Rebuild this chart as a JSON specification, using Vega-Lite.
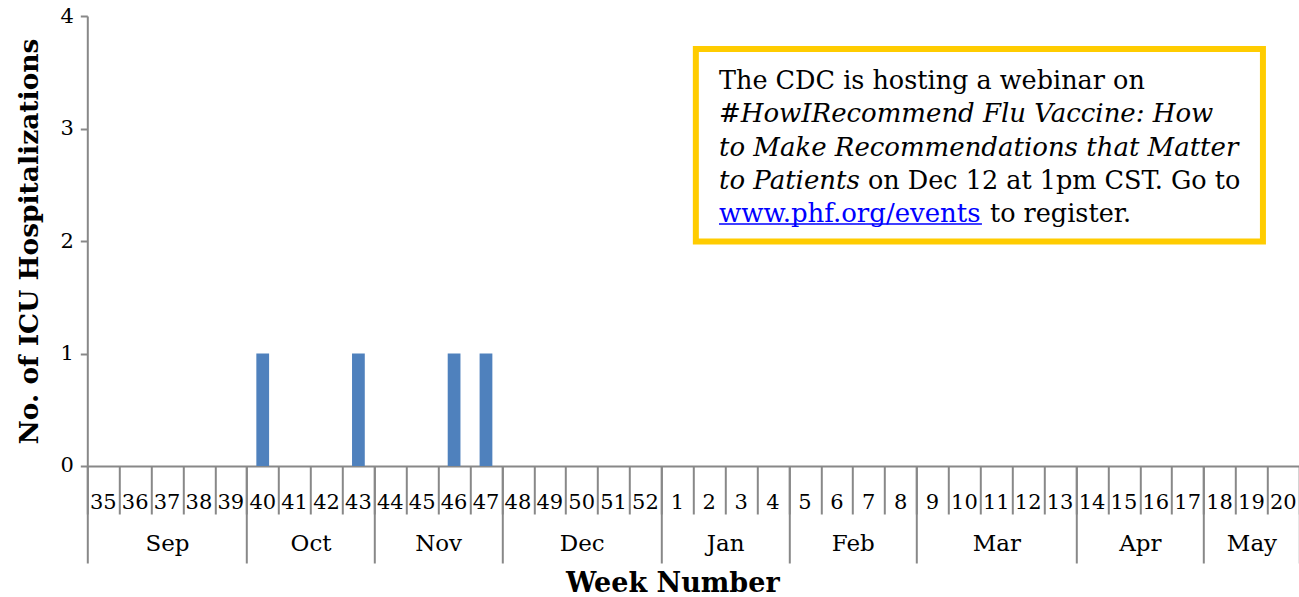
{
  "$schema": "https://vega.github.io/schema/vega-lite/v6.json",
  "width": 1212,
  "height": 450,
  "autosize": {"type": "none"},
  "padding": {"left": 87.3, "top": 16, "right": 0, "bottom": 131},
  "background": "white",
  "config": {
    "font": "DejaVu Serif",
    "view": {"stroke": null},
    "axisY": {
      "format": "d", "grid": false,
      "tickSize": 7, "tickColor": "#888888", "tickWidth": 2,
      "domainColor": "#888888", "domainWidth": 2,
      "labelFontSize": 21, "labelColor": "black", "labelPadding": 7, "labelFont": "DejaVu Serif",
      "titleFontSize": 26.5, "titleFontWeight": "bold", "titleColor": "black", "titleFont": "DejaVu Serif",
      "titleX": -50, "titleY": 225, "titleAngle": -90, "titleBaseline": "alphabetic", "titleAlign": "center"
    }
  },
  "datasets": {
    "weeks": [
      {"week": "35", "count": 0}, {"week": "36", "count": 0}, {"week": "37", "count": 0},
      {"week": "38", "count": 0}, {"week": "39", "count": 0}, {"week": "40", "count": 1},
      {"week": "41", "count": 0}, {"week": "42", "count": 0}, {"week": "43", "count": 1},
      {"week": "44", "count": 0}, {"week": "45", "count": 0}, {"week": "46", "count": 1},
      {"week": "47", "count": 1}, {"week": "48", "count": 0}, {"week": "49", "count": 0},
      {"week": "50", "count": 0}, {"week": "51", "count": 0}, {"week": "52", "count": 0},
      {"week": "1", "count": 0}, {"week": "2", "count": 0}, {"week": "3", "count": 0},
      {"week": "4", "count": 0}, {"week": "5", "count": 0}, {"week": "6", "count": 0},
      {"week": "7", "count": 0}, {"week": "8", "count": 0}, {"week": "9", "count": 0},
      {"week": "10", "count": 0}, {"week": "11", "count": 0}, {"week": "12", "count": 0},
      {"week": "13", "count": 0}, {"week": "14", "count": 0}, {"week": "15", "count": 0},
      {"week": "16", "count": 0}, {"week": "17", "count": 0}, {"week": "18", "count": 0},
      {"week": "19", "count": 0}, {"week": "20", "count": 0}
    ],
    "months": [
      {"month": "Sep", "start": 0, "end": 5, "mid": 2.5},
      {"month": "Oct", "start": 5, "end": 9, "mid": 7},
      {"month": "Nov", "start": 9, "end": 13, "mid": 11},
      {"month": "Dec", "start": 13, "end": 18, "mid": 15.5},
      {"month": "Jan", "start": 18, "end": 22, "mid": 20},
      {"month": "Feb", "start": 22, "end": 26, "mid": 24},
      {"month": "Mar", "start": 26, "end": 31, "mid": 28.5},
      {"month": "Apr", "start": 31, "end": 35, "mid": 33},
      {"month": "May", "start": 35, "end": 38, "mid": 36.5}
    ],
    "box": [{"x": 19.08, "x2": 36.86, "y": 3.707, "y2": 1.996}],
    "plainText": [
      {"text": "The CDC is hosting a webinar on", "x": 19.806, "y": 3.351},
      {"text": "on Dec 12 at 1pm CST. Go to", "x": 24.477, "y": 2.463},
      {"text": "to register.", "x": 28.30, "y": 2.167}
    ],
    "italicText": [
      {"text": "#HowIRecommend Flu Vaccine: How", "x": 19.806, "y": 3.055},
      {"text": "to Make Recommendations that Matter", "x": 19.806, "y": 2.759},
      {"text": "to Patients", "x": 19.806, "y": 2.463}
    ],
    "linkText": [
      {"text": "www.phf.org/events", "x": 19.806, "x2": 28.05, "y": 2.167, "yu": 2.151}
    ]
  },
  "layer": [
    {
      "data": {"name": "weeks"},
      "mark": {"type": "bar", "color": "#4F81BD"},
      "encoding": {
        "x": {
          "field": "week", "type": "ordinal",
          "sort": ["35","36","37","38","39","40","41","42","43","44","45","46","47","48","49","50","51","52","1","2","3","4","5","6","7","8","9","10","11","12","13","14","15","16","17","18","19","20"],
          "scale": {"paddingInner": 0.6, "paddingOuter": 0.3},
          "axis": {
            "orient": "bottom", "title": null, "labelAngle": 0,
            "ticks": false,
            "domainColor": "#888888", "domainWidth": 2,
            "labelFontSize": 21, "labelColor": "black", "labelFont": "DejaVu Serif",
            "labelBaseline": "alphabetic", "labelPadding": 43, "labelOverlap": false, "labelBound": false
          }
        },
        "y": {
          "field": "count", "type": "quantitative",
          "scale": {"domain": [0, 4], "nice": false},
          "title": "No. of ICU Hospitalizations",
          "axis": {"values": [0, 1, 2, 3, 4], "format": "d", "title": "No. of ICU Hospitalizations"}
        }
      }
    },
    {
      "data": {"name": "months"},
      "mark": {"type": "rule", "opacity": 0},
      "encoding": {
        "x": {
          "field": "end", "type": "quantitative",
          "scale": {"domain": [0, 38], "nice": false, "zero": false},
          "axis": {
            "orient": "bottom", "title": null,
            "values": [0,1,2,3,4,5,6,7,8,9,10,11,12,13,14,15,16,17,18,19,20,21,22,23,24,25,26,27,28,29,30,31,32,33,34,35,36,37,38],
            "labels": false, "domain": false, "grid": false,
            "tickSize": 48, "tickColor": "#888888", "tickWidth": 2
          }
        }
      }
    },
    {
      "data": {"name": "months"},
      "mark": {"type": "rule", "opacity": 0},
      "encoding": {
        "x": {
          "field": "start", "type": "quantitative",
          "scale": {"domain": [0, 38], "nice": false, "zero": false},
          "axis": {
            "orient": "bottom", "title": null, "values": [0, 5, 9, 13, 18, 22, 26, 31, 35, 38],
            "labels": false, "domain": false, "grid": false,
            "tickSize": 97, "tickColor": "#888888", "tickWidth": 2
          }
        }
      }
    },
    {
      "data": {"name": "months"},
      "mark": {"type": "rule", "opacity": 0},
      "encoding": {
        "x": {
          "field": "mid", "type": "quantitative",
          "scale": {"domain": [0, 38], "nice": false, "zero": false},
          "axis": {
            "orient": "bottom", "values": [2.5, 7, 11, 15.5, 20, 24, 28.5, 33, 36.5],
            "labelExpr": "datum.value == 2.5 ? 'Sep' : datum.value == 7 ? 'Oct' : datum.value == 11 ? 'Nov' : datum.value == 15.5 ? 'Dec' : datum.value == 20 ? 'Jan' : datum.value == 24 ? 'Feb' : datum.value == 28.5 ? 'Mar' : datum.value == 33 ? 'Apr' : 'May'",
            "ticks": false, "domain": false, "grid": false,
            "labelFontSize": 23, "labelColor": "black", "labelFont": "DejaVu Serif",
            "labelBaseline": "alphabetic", "labelPadding": 85, "labelOverlap": false, "labelBound": false,
            "title": "Week Number", "titleFontSize": 27, "titleFontWeight": "bold", "titleColor": "black",
            "titleFont": "DejaVu Serif", "titleX": 585, "titleY": 126, "titleBaseline": "alphabetic", "titleAlign": "center"
          }
        }
      }
    },
    {
      "data": {"name": "box"},
      "mark": {"type": "rect", "fill": "white", "stroke": "#FFCC00", "strokeWidth": 6},
      "encoding": {
        "x": {"field": "x", "type": "quantitative", "scale": {"domain": [0, 38], "nice": false, "zero": false}, "axis": null},
        "x2": {"field": "x2"},
        "y": {"field": "y", "type": "quantitative", "scale": {"domain": [0, 4], "nice": false}, "title": "No. of ICU Hospitalizations"},
        "y2": {"field": "y2"}
      }
    },
    {
      "data": {"name": "plainText"},
      "mark": {"type": "text", "align": "left", "baseline": "alphabetic", "fontSize": 25.5, "font": "DejaVu Serif", "color": "black"},
      "encoding": {
        "x": {"field": "x", "type": "quantitative", "scale": {"domain": [0, 38], "nice": false, "zero": false}, "axis": null},
        "y": {"field": "y", "type": "quantitative", "scale": {"domain": [0, 4], "nice": false}, "title": "No. of ICU Hospitalizations"},
        "text": {"field": "text"}
      }
    },
    {
      "data": {"name": "italicText"},
      "mark": {"type": "text", "align": "left", "baseline": "alphabetic", "fontSize": 26, "font": "DejaVu Serif", "fontStyle": "italic", "color": "black"},
      "encoding": {
        "x": {"field": "x", "type": "quantitative", "scale": {"domain": [0, 38], "nice": false, "zero": false}, "axis": null},
        "y": {"field": "y", "type": "quantitative", "scale": {"domain": [0, 4], "nice": false}, "title": "No. of ICU Hospitalizations"},
        "text": {"field": "text"}
      }
    },
    {
      "data": {"name": "linkText"},
      "mark": {"type": "text", "align": "left", "baseline": "alphabetic", "fontSize": 26, "font": "DejaVu Serif", "color": "#0000FF"},
      "encoding": {
        "x": {"field": "x", "type": "quantitative", "scale": {"domain": [0, 38], "nice": false, "zero": false}, "axis": null},
        "y": {"field": "y", "type": "quantitative", "scale": {"domain": [0, 4], "nice": false}, "title": "No. of ICU Hospitalizations"},
        "text": {"field": "text"}
      }
    },
    {
      "data": {"name": "linkText"},
      "mark": {"type": "rule", "color": "#0000FF", "strokeWidth": 1.5},
      "encoding": {
        "x": {"field": "x", "type": "quantitative", "scale": {"domain": [0, 38], "nice": false, "zero": false}, "axis": null},
        "x2": {"field": "x2"},
        "y": {"field": "yu", "type": "quantitative", "scale": {"domain": [0, 4], "nice": false}, "title": "No. of ICU Hospitalizations"}
      }
    }
  ],
  "resolve": {"scale": {"x": "independent"}, "axis": {"x": "independent"}}
}
